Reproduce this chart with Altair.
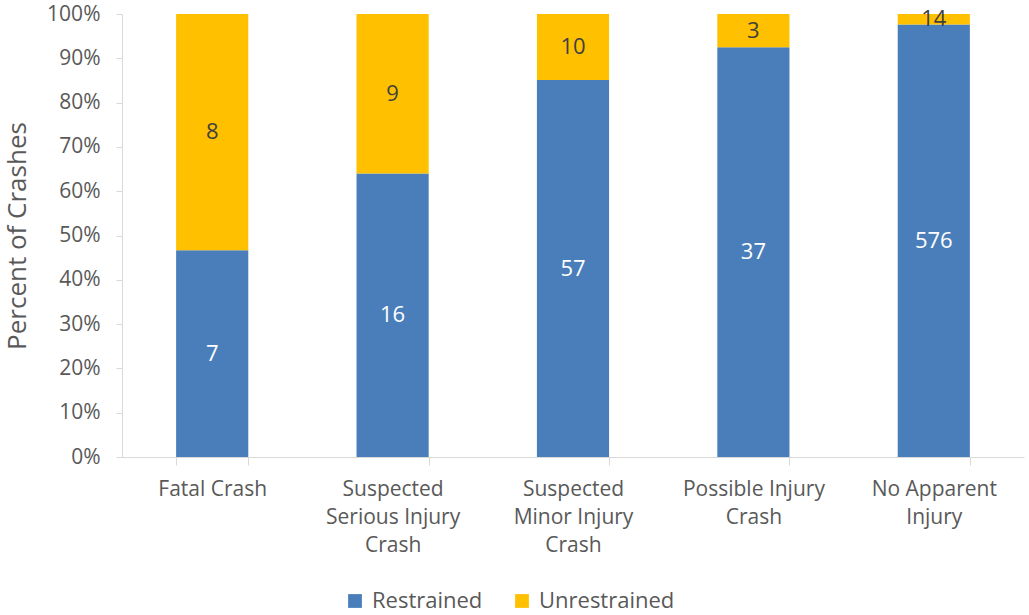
import altair as alt
import pandas as pd

categories = ["Fatal Crash", "Suspected|Serious Injury|Crash", "Suspected|Minor Injury|Crash",
              "Possible Injury|Crash", "No Apparent|Injury"]
restrained = [7, 16, 57, 37, 576]
unrestrained = [8, 9, 10, 3, 14]
series = ["Restrained", "Unrestrained"]
colors = ["#4A7EBB", "#FFC000"]
label_colors = ["#FFFFFF", "#404040"]

rows = []
for i, c in enumerate(categories):
    rows.append({"category": c, "series": series[0], "count": restrained[i], "order": 0})
    rows.append({"category": c, "series": series[1], "count": unrestrained[i], "order": 1})
df = pd.DataFrame(rows)

FONT = "Open Sans"
GRAY = "#595959"

base = alt.Chart(df).transform_stack(
    stack="count", groupby=["category"], as_=["y0", "y1"], offset="normalize",
    sort=[alt.SortField("order", order="ascending")]
).transform_calculate(mid="(datum.y0 + datum.y1) / 2")

x = alt.X("category:N", sort=categories, title=None,
          scale=alt.Scale(paddingInner=0.6, paddingOuter=0.3),
          axis=alt.Axis(labelAngle=0, labelExpr="split(datum.label, '|')",
                        labelFont=FONT, labelFontSize=21, labelColor=GRAY,
                        labelPadding=13, labelLineHeight=28,
                        domainColor="#D9D9D9", tickColor="#D9D9D9", tickSize=8,
                        tickBand="extent", labelBaseline="top"))

bars = base.mark_bar().encode(
    x=x,
    y=alt.Y("y0:Q", title="Percent of Crashes",
            scale=alt.Scale(domain=[0, 1], nice=False),
            axis=alt.Axis(format="%", values=[i / 10 for i in range(11)], grid=False,
                          labelFont=FONT, labelFontSize=21, labelColor=GRAY,
                          titleFont=FONT, titleFontSize=26, titleColor=GRAY,
                          titleFontWeight="normal", titlePadding=16,
                          domainColor="#D9D9D9", tickColor="#D9D9D9", tickSize=6,
                          labelPadding=16)),
    y2="y1:Q",
    color=alt.Color("series:N", scale=alt.Scale(domain=series, range=colors),
                    legend=alt.Legend(title=None, orient="none", direction="horizontal",
                                      legendX=222, legendY=576,
                                      symbolType="square", symbolSize=190,
                                      symbolStrokeWidth=0,
                                      labelFont=FONT, labelFontSize=22, labelColor=GRAY,
                                      columnPadding=28, labelOffset=6)),
)

labels = base.mark_text(font=FONT, fontSize=22).encode(
    x=alt.X("category:N", sort=categories),
    y="mid:Q",
    text="count:Q",
    color=alt.Color("series:N", scale=alt.Scale(domain=series, range=label_colors), legend=None),
)

chart = alt.layer(bars, labels).resolve_scale(color="independent").properties(
    width=902, height=443,
    padding={"left": 4, "top": 3, "right": 4, "bottom": 0},
).configure_view(stroke=None)

chart.save("out.html", embed_options={"renderer": "svg", "actions": False})
